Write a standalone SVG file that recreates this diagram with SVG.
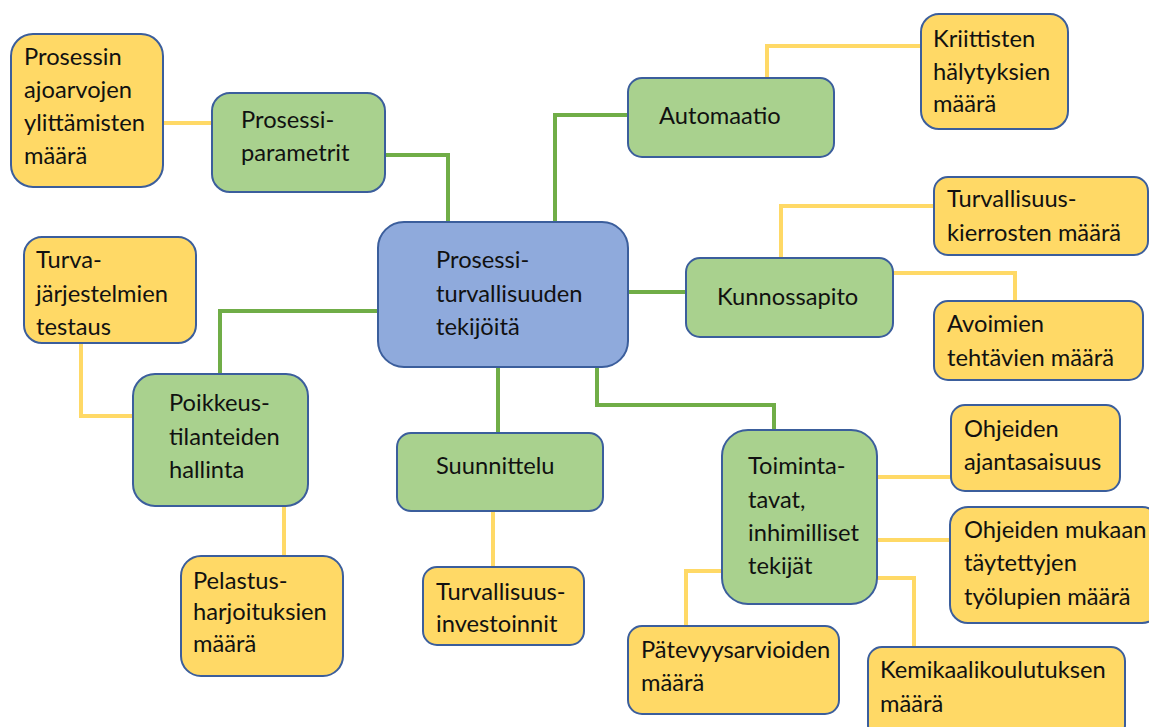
<svg xmlns="http://www.w3.org/2000/svg" width="1149" height="727" viewBox="0 0 1149 727">
<style>
.n{stroke:#3B5E9C;stroke-width:2}
.y{fill:#FFD966}
.g{fill:#A9D18E}
.b{fill:#8FAADC}
.t{font-family:Lato,"Liberation Sans",sans-serif;font-size:23.7px;fill:#111}
.cg{fill:none;stroke:#70AD47;stroke-width:4}
.cy{fill:none;stroke:#FFD966;stroke-width:4}
</style>
<rect width="1149" height="727" fill="#fff"/>
<g id="connectors">
<path class="cg" d="M385,155 H448 V222"/>
<path class="cg" d="M555,222 V115 H628"/>
<path class="cg" d="M378,311 H220 V374"/>
<path class="cg" d="M628,292 H686"/>
<path class="cg" d="M498,367 V433"/>
<path class="cg" d="M597,367 V405 H774 V430"/>
<path class="cy" d="M163,123 H212"/>
<path class="cy" d="M767,78 V46 H921"/>
<path class="cy" d="M781,258 V206 H934"/>
<path class="cy" d="M893,273 H1015 V301"/>
<path class="cy" d="M81,343 V416 H133"/>
<path class="cy" d="M284,506 V556"/>
<path class="cy" d="M493,511 V567"/>
<path class="cy" d="M877,477 H951"/>
<path class="cy" d="M877,540 H950"/>
<path class="cy" d="M877,578 H914 V647"/>
<path class="cy" d="M722,571 H686 V626"/>
</g>
<g id="n1"><rect class="n y" x="11" y="34" width="152" height="153" rx="22"/><text class="t" x="24"><tspan x="24" y="65">Prosessin</tspan><tspan x="24" y="98">ajoarvojen</tspan><tspan x="24" y="131">ylittämisten</tspan><tspan x="24" y="164">määrä</tspan></text></g>
<g id="n2"><rect class="n g" x="212" y="93" width="173" height="99" rx="18"/><text class="t"><tspan x="241" y="128">Prosessi-</tspan><tspan x="241" y="161">parametrit</tspan></text></g>
<g id="n3"><rect class="n g" x="628" y="78" width="206" height="79" rx="14"/><text class="t" x="659" y="124">Automaatio</text></g>
<g id="n4"><rect class="n y" x="921" y="14" width="147" height="115" rx="18"/><text class="t"><tspan x="933" y="47">Kriittisten</tspan><tspan x="933" y="80">hälytyksien</tspan><tspan x="933" y="112">määrä</tspan></text></g>
<g id="n5"><rect class="n b" x="378" y="222" width="250" height="145" rx="26"/><text class="t"><tspan x="436" y="268">Prosessi-</tspan><tspan x="436" y="302">turvallisuuden</tspan><tspan x="436" y="335">tekijöitä</tspan></text></g>
<g id="n6"><rect class="n g" x="686" y="258" width="207" height="79" rx="14"/><text class="t" x="717" y="305">Kunnossapito</text></g>
<g id="n7"><rect class="n y" x="934" y="177" width="214" height="78" rx="14"/><text class="t"><tspan x="947" y="207">Turvallisuus-</tspan><tspan x="947" y="241">kierrosten määrä</tspan></text></g>
<g id="n8"><rect class="n y" x="934" y="301" width="209" height="79" rx="14"/><text class="t"><tspan x="947" y="332">Avoimien</tspan><tspan x="947" y="366">tehtävien määrä</tspan></text></g>
<g id="n9"><rect class="n y" x="24" y="237" width="172" height="106" rx="18"/><text class="t"><tspan x="36" y="268">Turva-</tspan><tspan x="36" y="302">järjestelmien</tspan><tspan x="36" y="335">testaus</tspan></text></g>
<g id="n10"><rect class="n g" x="133" y="374" width="175" height="132" rx="22"/><text class="t"><tspan x="169" y="411">Poikkeus-</tspan><tspan x="169" y="445">tilanteiden</tspan><tspan x="169" y="478">hallinta</tspan></text></g>
<g id="n11"><rect class="n g" x="397" y="433" width="206" height="78" rx="14"/><text class="t" x="436" y="474">Suunnittelu</text></g>
<g id="n12"><rect class="n g" x="722" y="430" width="155" height="174" rx="26"/><text class="t"><tspan x="748" y="474">Toiminta-</tspan><tspan x="748" y="508">tavat,</tspan><tspan x="748" y="541">inhimilliset</tspan><tspan x="748" y="574">tekijät</tspan></text></g>
<g id="n13"><rect class="n y" x="951" y="405" width="169" height="86" rx="14"/><text class="t"><tspan x="964" y="437">Ohjeiden</tspan><tspan x="964" y="470">ajantasaisuus</tspan></text></g>
<g id="n14"><rect class="n y" x="950" y="507" width="210" height="116" rx="18"/><text class="t"><tspan x="964" y="538">Ohjeiden mukaan</tspan><tspan x="964" y="571">täytettyjen</tspan><tspan x="964" y="605">työlupien määrä</tspan></text></g>
<g id="n15"><rect class="n y" x="628" y="626" width="211" height="88" rx="14"/><text class="t"><tspan x="641" y="658">Pätevyysarvioiden</tspan><tspan x="641" y="691">määrä</tspan></text></g>
<g id="n16"><rect class="n y" x="868" y="647" width="257" height="92" rx="14"/><text class="t"><tspan x="880" y="678">Kemikaalikoulutuksen</tspan><tspan x="880" y="712">määrä</tspan></text></g>
<g id="n17"><rect class="n y" x="181" y="556" width="162" height="120" rx="20"/><text class="t"><tspan x="193" y="589">Pelastus-</tspan><tspan x="193" y="620">harjoituksien</tspan><tspan x="193" y="652">määrä</tspan></text></g>
<g id="n18"><rect class="n y" x="423" y="567" width="161" height="78" rx="14"/><text class="t"><tspan x="436" y="600">Turvallisuus-</tspan><tspan x="436" y="632">investoinnit</tspan></text></g>
</svg>
